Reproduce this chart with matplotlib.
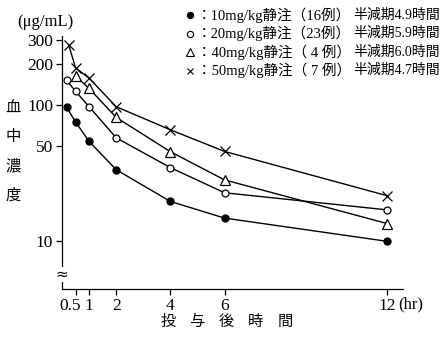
import matplotlib
matplotlib.use("Agg")
import matplotlib.pyplot as plt
import matplotlib.transforms as mtransforms
from matplotlib.lines import Line2D

# ---- data ----
t_10 = [0.17, 0.5, 1, 2, 4, 6, 12]
c_10 = [96, 75, 54, 33.5, 19.6, 14.8, 10.0]
t_20 = [0.17, 0.5, 1, 2, 4, 6, 12]
c_20 = [151, 126, 97, 57.4, 34.7, 22.7, 17.0]
t_40 = [0.5, 1, 2, 4, 6, 12]
c_40 = [163, 132, 81, 45.4, 28.2, 13.5]
t_50 = [0.25, 0.5, 1, 2, 4, 6, 12]
c_50 = [274, 187, 157, 97, 65.7, 45.6, 21.6]

x_ticks = [0.5, 1, 2, 4, 6, 12]
x_ticklabels = ["0.5", "1", "2", "4", "6", "12"]
y_ticks = [10, 50, 100, 200, 300]
y_ticklabels = ["10", "50", "100", "200", "300"]

legend_doses = ["：10mg/kg静注（16例）", "：20mg/kg静注（23例）",
                "：40mg/kg静注（ 4 例）", "：50mg/kg静注（ 7 例）"]
legend_halflife = ["半減期4.9時間", "半減期5.9時間", "半減期6.0時間", "半減期4.7時間"]
ylabel_chars = ["血", "中", "濃", "度"]
xlabel_chars = ["投", "与", "後", "時", "間"]

FAM = ["Liberation Serif", "Noto Sans CJK JP", "DejaVu Sans"]
plt.rcParams["font.family"] = FAM

W, H = 448, 337
fig = plt.figure(figsize=(W / 100, H / 100), dpi=100)
ax = fig.add_axes([62 / W, 1 - 289 / H, (403 - 62) / W, (289 - 36) / H])

lw = 1.0
ax.plot(t_10, c_10, color="black", lw=lw, marker="o", ms=5, mfc="black", mec="black")
ax.plot(t_20, c_20, color="black", lw=lw, marker="o", ms=5, mfc="white", mec="black", mew=0.9)
ax.plot(t_40, c_40, color="black", lw=lw, marker="^", ms=7.5, mfc="white", mec="black", mew=0.9)
ax.plot(t_50, c_50, color="black", lw=lw, marker="x", ms=6.5, mec="black", mew=0.9)

ax.set_yscale("log")
ax.set_ylim(4.47, 320)
ax.set_xlim(0, 12.59)
ax.set_xticks(x_ticks)
ax.set_xticklabels(x_ticklabels)
ax.set_yticks(y_ticks)
ax.set_yticklabels(y_ticklabels)
ax.minorticks_off()
ax.tick_params(direction="out", length=4.5, width=0.9, labelsize=12.5, pad=2)
for s in ["top", "right"]:
    ax.spines[s].set_visible(False)
for s in ["left", "bottom"]:
    ax.spines[s].set_linewidth(0.9)

# shift the "0.5" label left so it doesn't collide with "1"
lab0 = ax.get_xticklabels()[0]
lab0.set_transform(lab0.get_transform() + mtransforms.ScaledTranslation(-5 / 100, 0, fig.dpi_scale_trans))

# axis break mark
fig.text(62 / W, 1 - 274 / H, "≈", ha="center", va="center", fontsize=11,
         family=["DejaVu Sans"], bbox=dict(boxstyle="square,pad=0.0", fc="white", ec="none"))

# unit
fig.text(17 / W, 1 - 22 / H, "(μg/mL)", ha="left", va="center", fontsize=12)
# y label characters
for i, ch in enumerate(ylabel_chars):
    fig.text(13 / W, 1 - (108 + 29 * i) / H, ch, ha="center", va="center", fontsize=11)
# x label characters
for i, ch in enumerate(xlabel_chars):
    fig.text((168 + 29.2 * i) / W, 1 - 322 / H, ch, ha="center", va="center", fontsize=11)
fig.text(398 / W, 1 - 304 / H, "(hr)", ha="left", va="center", fontsize=12)

# legend
mk = [dict(marker="o", mfc="black", ms=4.5), dict(marker="o", mfc="white", ms=4.5),
      dict(marker="^", mfc="white", ms=6), dict(marker="x", mfc="none", ms=5)]
for i in range(4):
    yy = 1 - (15 + 18.5 * i) / H
    fig.add_artist(Line2D([190 / W], [yy], transform=fig.transFigure, color="black",
                          mec="black", mew=0.8, ls="none", **mk[i]))
    fig.text(197 / W, yy, legend_doses[i], ha="left", va="center", fontsize=10.5)
    fig.text(353 / W, yy, legend_halflife[i], ha="left", va="center", fontsize=10)

fig.savefig("out.png", dpi=100, facecolor="white")
